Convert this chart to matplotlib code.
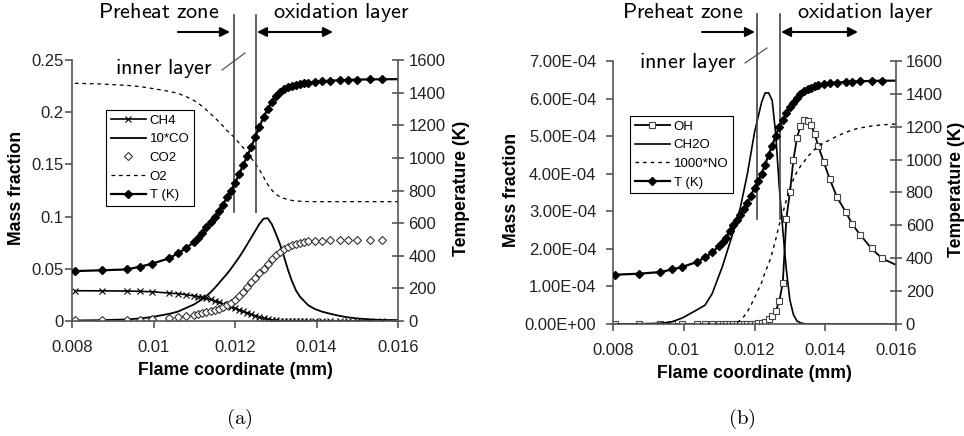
import numpy as np
import matplotlib
matplotlib.use('Agg')
import matplotlib.pyplot as plt
from matplotlib.lines import Line2D
from matplotlib.patches import FancyArrowPatch

plt.rcParams['font.family'] = ['Liberation Sans', 'DejaVu Sans']
plt.rcParams['mathtext.fontset'] = 'cm'

# flame coordinate grid (mm), same adaptive grid for both panels
x_grid = [0.00807, 0.00873, 0.00934, 0.00967, 0.00996, 0.01038, 0.0106, 0.0108,
          0.0110, 0.0111, 0.0112, 0.0113, 0.0114, 0.0115, 0.0116, 0.0117,
          0.0118, 0.0119, 0.0120, 0.0121, 0.0122, 0.0123, 0.0124, 0.0125,
          0.0126, 0.0127, 0.0128, 0.0129, 0.0130, 0.0131, 0.0132, 0.0133,
          0.0134, 0.0135, 0.0136, 0.0137, 0.0138, 0.01396, 0.01413, 0.01433,
          0.01458, 0.01477, 0.01499, 0.01531, 0.0156, 0.0165]

# panel (a) - mass fractions and temperature
ch4 = [0.0290, 0.0289, 0.0287, 0.0284, 0.0280, 0.0268, 0.0262, 0.0252,
       0.0240, 0.0234, 0.0226, 0.0217, 0.0206, 0.0194, 0.0180, 0.0166,
       0.0151, 0.0136, 0.0121, 0.0106, 0.0092, 0.0078, 0.0063, 0.0050,
       0.0037, 0.0026, 0.0017, 0.0010, 0.0006, 0.0004, 0.0003, 0.0003,
       0.0003, 0.0003, 0.0003, 0.0003, 0.0003, 0.0003, 0.0003, 0.0003,
       0.0002, 0.0002, 0.0002, 0.0002, 0.0002, 0.0002]
co_x10 = [0.0005, 0.0008, 0.0015, 0.0025, 0.0038, 0.0068, 0.0090, 0.0125,
          0.0160, 0.0185, 0.0210, 0.0240, 0.0275, 0.0315, 0.0360, 0.0405,
          0.0450, 0.0500, 0.0555, 0.0610, 0.0670, 0.0735, 0.0800, 0.0865,
          0.0930, 0.0980, 0.0985, 0.0930, 0.0840, 0.0740, 0.0620, 0.0490,
          0.0380, 0.0290, 0.0230, 0.0190, 0.0150, 0.0115, 0.0090, 0.0070,
          0.0048, 0.0035, 0.0025, 0.0015, 0.0010, 0.0007]
co2 = [0.0005, 0.0006, 0.0009, 0.0012, 0.0017, 0.0026, 0.0035, 0.0047,
       0.0058, 0.0065, 0.0073, 0.0082, 0.0092, 0.0103, 0.0116, 0.0130,
       0.0150, 0.0175, 0.0205, 0.0240, 0.0280, 0.0325, 0.0370, 0.0415,
       0.0460, 0.0500, 0.0545, 0.0590, 0.0630, 0.0660, 0.0690, 0.0710,
       0.0728, 0.0740, 0.0750, 0.0757, 0.0762, 0.0767, 0.0770, 0.0773,
       0.0775, 0.0776, 0.0776, 0.0776, 0.0777, 0.0777]
o2 = [0.2277, 0.2270, 0.2257, 0.2245, 0.2228, 0.2200, 0.2180, 0.2150,
      0.2110, 0.2085, 0.2055, 0.2020, 0.1985, 0.1950, 0.1910, 0.1870,
      0.1825, 0.1790, 0.1750, 0.1705, 0.1660, 0.1610, 0.1560, 0.1505,
      0.1450, 0.1380, 0.1310, 0.1255, 0.1215, 0.1190, 0.1175, 0.1163,
      0.1155, 0.1150, 0.1147, 0.1145, 0.1144, 0.1143, 0.1143, 0.1143,
      0.1143, 0.1143, 0.1143, 0.1143, 0.1143, 0.1143]
temp_a = [306, 311, 316, 333, 351, 384, 415, 446, 486, 510, 539, 575, 605,
          640, 676, 711, 758, 800, 845, 900, 955, 1010, 1068, 1130, 1190,
          1250, 1300, 1345, 1380, 1405, 1422, 1433, 1442, 1449, 1454, 1458,
          1462, 1466, 1469, 1473, 1476, 1478, 1480, 1481, 1482, 1483]

# panel (b) - minor species (x 1e-4) and temperature
oh_e4 = [0.0, 0.0, 0.0, 0.0, 0.0, 0.0, 0.0, 0.0, 0.0, 0.0, 0.0, 0.0, 0.0,
         0.0, 0.0, 0.0, 0.0, 0.0, 0.01, 0.02, 0.03, 0.06, 0.12, 0.20, 0.35,
         0.60, 1.10, 2.80, 3.50, 4.37, 4.95, 5.28, 5.42, 5.40, 5.30, 5.05,
         4.75, 4.30, 3.85, 3.38, 2.98, 2.65, 2.37, 2.01, 1.75, 1.35]
ch2o_e4 = [0.0, 0.005, 0.02, 0.06, 0.16, 0.38, 0.50, 0.80, 1.30, 1.55,
           1.85, 2.15, 2.45, 2.75, 3.10, 3.55, 4.00, 4.55, 5.10, 5.50, 5.90,
           6.15, 6.15, 5.95, 5.05, 3.65, 2.50, 1.45, 0.64, 0.25, 0.08, 0.03,
           0.01, 0.0, 0.0, 0.0, 0.0, 0.0, 0.0, 0.0, 0.0, 0.0, 0.0, 0.0, 0.0,
           0.0]
no_x1000_e4 = [0.0, 0.0, 0.0, 0.0, 0.0, 0.0, 0.0, 0.0, 0.0, 0.0, 0.0, 0.0,
               0.0, 0.03, 0.10, 0.20, 0.33, 0.50, 0.70, 0.90, 1.10, 1.38,
               1.60, 1.90, 2.25, 2.65, 2.95, 3.30, 3.60, 3.85, 4.05, 4.20,
               4.32, 4.45, 4.55, 4.65, 4.73, 4.82, 4.90, 5.00, 5.10, 5.17,
               5.22, 5.27, 5.30, 5.35]
temp_b = [300, 306, 316, 332, 347, 378, 405, 435, 475, 497, 525, 565, 605,
          635, 665, 700, 735, 780, 830, 870, 915, 970, 1030, 1085, 1145,
          1200, 1240, 1285, 1320, 1345, 1375, 1400, 1418, 1428, 1438, 1446,
          1452, 1460, 1465, 1469, 1473, 1475, 1477, 1479, 1480, 1481]

xtick_vals = [0.008, 0.01, 0.012, 0.014, 0.016]
xtick_labels = ['0.008', '0.01', '0.012', '0.014', '0.016']
ytick_a = [0, 0.05, 0.1, 0.15, 0.2, 0.25]
ytick_a_labels = ['0', '0.05', '0.1', '0.15', '0.2', '0.25']
ytick_b = [0, 1e-4, 2e-4, 3e-4, 4e-4, 5e-4, 6e-4, 7e-4]
ytick_b_labels = ['0.00E+00', '1.00E-04', '2.00E-04', '3.00E-04',
                  '4.00E-04', '5.00E-04', '6.00E-04', '7.00E-04']
temp_ticks = [0, 200, 400, 600, 800, 1000, 1200, 1400, 1600]

W, H = 964, 436
fig = plt.figure(figsize=(W / 100, H / 100), dpi=100)


def px_rect(x0, y0, x1, y1):
    return [x0 / W, 1 - y1 / H, (x1 - x0) / W, (y1 - y0) / H]


def fxy(x, y):
    return (x / W, 1 - y / H)


spine_c = '#555555'
tick_c = '#222222'


def style_axes(ax, ax2, yticks, ylabels, ylim, lpad, rpad, lab_l, lab_r):
    ax.set_xlim(0.008, 0.016)
    ax.set_ylim(*ylim)
    ax2.set_ylim(0, 1600)
    ax.set_xticks(xtick_vals)
    ax.set_xticklabels(xtick_labels)
    ax.set_yticks(yticks)
    ax.set_yticklabels(ylabels)
    ax2.set_yticks(temp_ticks)
    ax2.set_yticklabels([str(t) for t in temp_ticks])
    for a in (ax, ax2):
        a.spines['top'].set_visible(False)
        for s in a.spines.values():
            s.set_color(spine_c)
            s.set_linewidth(1.2)
        a.set_facecolor('none')
    ax.spines['right'].set_visible(False)
    ax2.spines['left'].set_visible(False)
    ax2.spines['bottom'].set_visible(False)
    ax.tick_params(axis='x', direction='out', length=5, width=1.2,
                   color=spine_c, labelsize=12, labelcolor=tick_c, pad=9)
    ax.tick_params(axis='y', direction='out', length=5, width=1.2,
                   color=spine_c, labelsize=12, labelcolor=tick_c, pad=lpad)
    ax2.tick_params(axis='y', direction='inout', length=8, width=1.2,
                    color=spine_c, labelsize=12, labelcolor=tick_c, pad=rpad)
    ax.set_xlabel('Flame coordinate (mm)', fontsize=12.7, fontweight='bold',
                  labelpad=5)
    ax.set_ylabel('Mass fraction', fontsize=12.7, fontweight='bold')
    ax2.set_ylabel('Temperature (K)', fontsize=12.7, fontweight='bold')
    ax.yaxis.set_label_coords(lab_l, 0.51)
    ax2.yaxis.set_label_coords(lab_r, 0.51)


def temp_line(ax2, vals):
    return ax2.plot(x_grid, vals, color='black', lw=1.6, marker='D', ms=4.2,
                    mfc='black', mec='black', label='T (K)')[0]


leg_kw = dict(loc='upper left', bbox_transform=fig.transFigure, fontsize=9.5,
              numpoints=1, handlelength=2.7, handletextpad=0.25,
              labelspacing=0.48, borderpad=0.35, borderaxespad=0,
              fancybox=False, edgecolor='black', framealpha=1)

# ---------------- panel (a)
ax_a = fig.add_axes(px_rect(72, 60, 398, 321))
ax_a2 = ax_a.twinx()
l_ch4, = ax_a.plot(x_grid, ch4, color='black', lw=1.2, marker='x', ms=4,
                   mew=0.8, label='CH4')
l_co, = ax_a.plot(x_grid, co_x10, color='black', lw=1.3, label='10*CO')
l_co2, = ax_a.plot(x_grid, co2, ls='none', marker='D', ms=4, mfc='white',
                   mec='#333333', mew=0.8, label='CO2')
l_o2, = ax_a.plot(x_grid, o2, color='black', lw=0.9, ls=(0, (3, 3)),
                  label='O2')
l_ta = temp_line(ax_a2, temp_a)
style_axes(ax_a, ax_a2, ytick_a, ytick_a_labels, (0, 0.25), 1, 3.5,
           -0.144, 1.169)
leg = ax_a2.legend([l_ch4, l_co, l_co2, l_o2, l_ta],
                   ['CH4', '10*CO', 'CO2', 'O2', 'T (K)'],
                   bbox_to_anchor=fxy(106, 110), **leg_kw)
leg.get_frame().set_linewidth(0.8)

# ---------------- panel (b)
ax_b = fig.add_axes(px_rect(613, 61, 896, 324))
ax_b2 = ax_b.twinx()
l_oh, = ax_b.plot(x_grid, np.array(oh_e4) * 1e-4, color='black', lw=1.3,
                  marker='s', ms=3.8, mfc='white', mec='#444444', mew=0.8,
                  label='OH')
l_ch2o, = ax_b.plot(x_grid, np.array(ch2o_e4) * 1e-4, color='black', lw=1.2,
                    label='CH2O')
l_no, = ax_b.plot(x_grid, np.array(no_x1000_e4) * 1e-4, color='black',
                  lw=1.0, ls=(0, (2.5, 3)), label='1000*NO')
l_tb = temp_line(ax_b2, temp_b)
style_axes(ax_b, ax_b2, ytick_b, ytick_b_labels, (0, 7e-4), 7, 3,
           -0.329, 1.184)
leg = ax_b2.legend([l_oh, l_ch2o, l_no, l_tb],
                   ['OH', 'CH2O', '1000*NO', 'T (K)'],
                   bbox_to_anchor=fxy(630, 116), **leg_kw)
leg.get_frame().set_linewidth(0.8)

# ---------------- zone annotations
ann_c = '#444444'
zones = [
    # (ax, x line 1, x line 2, y bottom, y top)
    (ax_a, 0.01197, 0.01252, 0.104, 0.293),
    (ax_b, 0.01207, 0.01272, 2.8e-4, 8.25e-4),
]
for ax, xl1, xl2, yb, yt in zones:
    for xl in (xl1, xl2):
        ax.plot([xl, xl], [yb, yt], color=ann_c, lw=1.2, clip_on=False,
                zorder=6)

txt_kw = dict(ha='center', va='center', fontsize=16)
fig.text(*fxy(159, 12), r'$\mathsf{Preheat\ zone}$', **txt_kw)
fig.text(*fxy(341, 12), r'$\mathsf{oxidation\ layer}$', **txt_kw)
fig.text(*fxy(164, 68), r'$\mathsf{inner\ layer}$', **txt_kw)
fig.text(*fxy(683, 12), r'$\mathsf{Preheat\ zone}$', **txt_kw)
fig.text(*fxy(865, 12), r'$\mathsf{oxidation\ layer}$', **txt_kw)
fig.text(*fxy(688, 62), r'$\mathsf{inner\ layer}$', **txt_kw)

fig.add_artist(Line2D([222 / W, 245 / W], [1 - 70 / H, 1 - 53 / H],
                      color=ann_c, lw=0.8))
fig.add_artist(Line2D([745 / W, 767 / W], [1 - 63 / H, 1 - 48 / H],
                      color=ann_c, lw=0.8))

arrows = [((178, 32), (230, 32), '-|>'), ((257, 32), (333, 32), '<|-|>'),
          ((702, 32), (755, 32), '-|>'), ((781, 32), (858, 32), '<|-|>')]
for p0, p1, st in arrows:
    fig.add_artist(FancyArrowPatch(
        fxy(*p0), fxy(*p1), transform=fig.transFigure, arrowstyle=st,
        mutation_scale=14, color='black', lw=1.5, shrinkA=0, shrinkB=0))

fig.text(*fxy(239, 419), r'$\mathrm{(a)}$', ha='center', va='center',
         fontsize=15)
fig.text(*fxy(742, 419), r'$\mathrm{(b)}$', ha='center', va='center',
         fontsize=15)

fig.savefig('out.png', dpi=100)
